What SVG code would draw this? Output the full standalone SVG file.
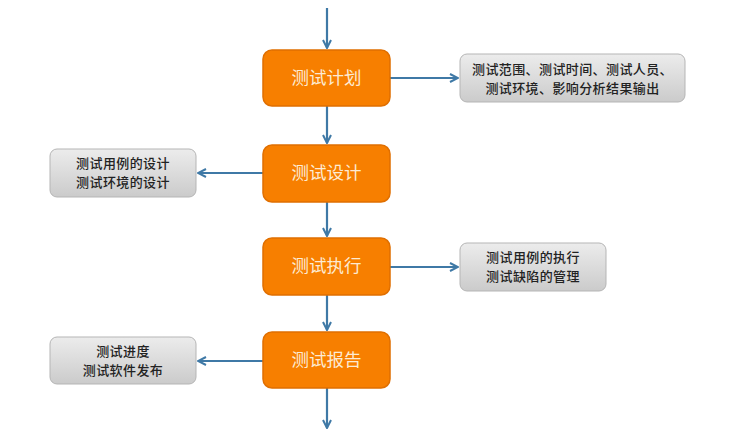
<svg xmlns="http://www.w3.org/2000/svg" width="748" height="440" viewBox="0 0 748 440">
<defs>
<linearGradient id="g" x1="0" y1="0" x2="0" y2="1"><stop offset="0" stop-color="#ececec"/><stop offset="1" stop-color="#cbcbcb"/></linearGradient>
<marker id="a" viewBox="0 0 10 10" refX="9" refY="5" markerWidth="10" markerHeight="10" markerUnits="userSpaceOnUse" orient="auto"><path d="M1,1 L9,5 L1,9" fill="none" stroke="#3f79a6" stroke-width="2"/></marker>
</defs>
<style>
.o{fill:#f77f00;stroke:#e06f00;stroke-width:1.5}
.ot{font-family:"Noto Sans CJK SC",sans-serif;font-size:17.5px;fill:#fdebd3;text-anchor:middle}
.b{fill:url(#g);stroke:#b5b5b5;stroke-width:1}
.bt{font-family:"Noto Sans CJK SC",sans-serif;font-size:13px;font-weight:500;letter-spacing:0.4px;fill:#222;text-anchor:middle}
.c{stroke:#3f79a6;stroke-width:2.2;fill:none;marker-end:url(#a)}
</style>
<rect width="748" height="440" fill="#fff"/>
<g id="connectors">
<line class="c" x1="327" y1="8" x2="327" y2="48"/>
<line class="c" x1="327" y1="106" x2="327" y2="143"/>
<line class="c" x1="327" y1="202" x2="327" y2="236"/>
<line class="c" x1="327" y1="295" x2="327" y2="330"/>
<line class="c" x1="327" y1="388" x2="327" y2="428"/>
<line class="c" x1="390" y1="78" x2="458" y2="78"/>
<line class="c" x1="263" y1="173" x2="198" y2="173"/>
<line class="c" x1="390" y1="267" x2="458" y2="267"/>
<line class="c" x1="263" y1="361" x2="198" y2="361"/>
</g>
<g id="plan"><rect class="o" x="263" y="50" width="127" height="56" rx="9"/><text class="ot" x="326.5" y="84">测试计划</text></g>
<g id="design"><rect class="o" x="263" y="145" width="127" height="57" rx="9"/><text class="ot" x="326.5" y="179">测试设计</text></g>
<g id="exec"><rect class="o" x="263" y="238" width="127" height="57" rx="9"/><text class="ot" x="326.5" y="272">测试执行</text></g>
<g id="report"><rect class="o" x="263" y="332" width="127" height="56" rx="9"/><text class="ot" x="326.5" y="366">测试报告</text></g>
<g id="plan-note"><rect class="b" x="460" y="54" width="225" height="48" rx="7"/><text class="bt" x="572.5" y="74">测试范围、测试时间、测试人员、</text><text class="bt" x="572.5" y="93">测试环境、影响分析结果输出</text></g>
<g id="design-note"><rect class="b" x="50" y="149" width="146" height="48" rx="7"/><text class="bt" x="123" y="168">测试用例的设计</text><text class="bt" x="123" y="187">测试环境的设计</text></g>
<g id="exec-note"><rect class="b" x="460" y="243" width="146" height="48" rx="7"/><text class="bt" x="533" y="262">测试用例的执行</text><text class="bt" x="533" y="281">测试缺陷的管理</text></g>
<g id="report-note"><rect class="b" x="50" y="337" width="146" height="47" rx="7"/><text class="bt" x="123" y="356">测试进度</text><text class="bt" x="123" y="375">测试软件发布</text></g>
</svg>
